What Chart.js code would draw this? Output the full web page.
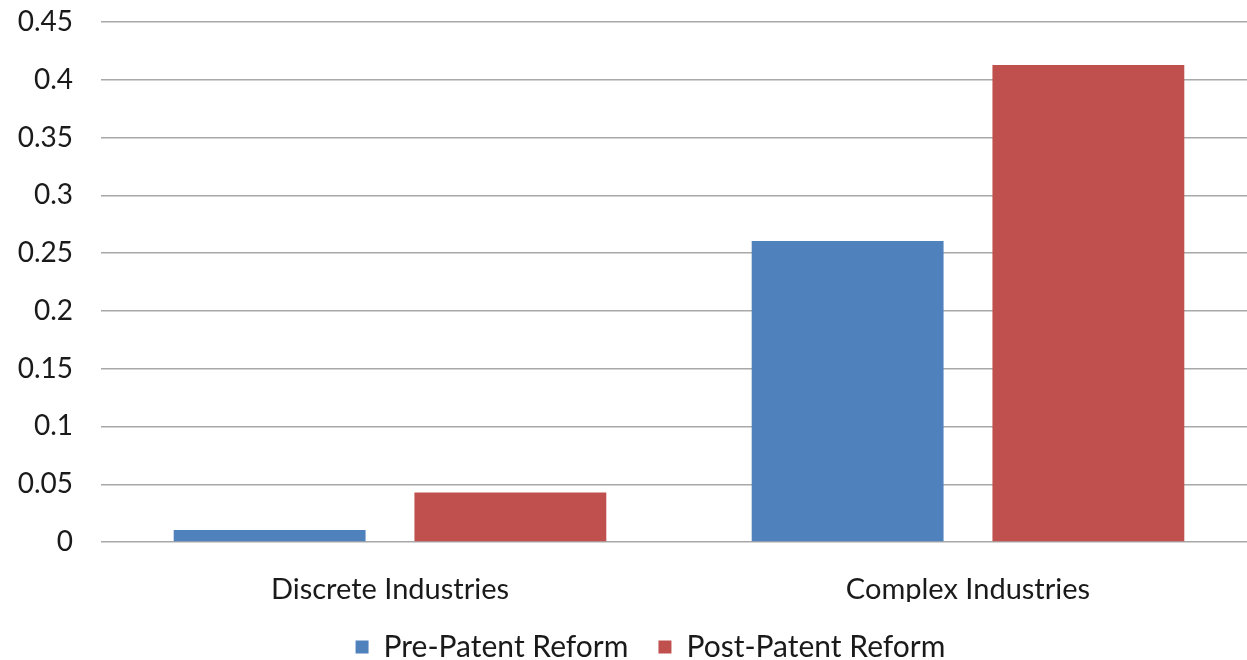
<!DOCTYPE html>
<html>
<head>
<meta charset="utf-8">
<title>Patent reform by industry type</title>
<script src="https://cdn.jsdelivr.net/npm/chart.js@4.4.1/dist/chart.umd.min.js"></script>
<style>
  html, body { margin: 0; padding: 0; background: #fff; overflow: hidden; }
  #wrap { width: 1300px; height: 660px; }
</style>
</head>
<body>
<div id="wrap"><canvas id="reformChart"></canvas></div>
<script>
// ── Data ───────────────────────────────────────────────
const CATEGORIES = ["Discrete Industries", "Complex Industries"];
const PRE_REFORM = [0.0104, 0.2604];
const POST_REFORM = [0.0428, 0.4127];
const SERIES_NAMES = ["Pre-Patent Reform", "Post-Patent Reform"];

const Y_MIN = 0;
const Y_MAX = 0.45;
const Y_STEP = 0.05;

const FONT = "Lato, 'Open Sans', sans-serif";
const TEXT_COLOR = "#1a1a1a";
const LEGEND_SHIFT = 22;

// nudge the legend a little to the right of the canvas centre
const legendShift = {
  id: "legendShift",
  afterLayout(chart) {
    if (!chart.legend) return;
    chart.legend.left += LEGEND_SHIFT;
    chart.legend.right += LEGEND_SHIFT;
  }
};

// ── Chart ──────────────────────────────────────────────
const ctx = document.getElementById("reformChart");

new Chart(ctx, {
  type: "bar",
  data: {
    labels: CATEGORIES,
    datasets: [
      { label: SERIES_NAMES[0], data: PRE_REFORM, backgroundColor: "#4f81bd", borderWidth: 0 },
      { label: SERIES_NAMES[1], data: POST_REFORM, backgroundColor: "#c0504d", borderWidth: 0 }
    ]
  },
  plugins: [legendShift],
  options: {
    responsive: true,
    maintainAspectRatio: false,
    animation: false,
    categoryPercentage: 0.833,
    barPercentage: 0.797,
    layout: { padding: { top: 22, right: 43, bottom: -12, left: 0 } },
    scales: {
      x: {
        grid: { display: false, drawTicks: false },
        border: { display: false },
        ticks: { color: TEXT_COLOR, font: { family: FONT, size: 29 }, padding: 30 },
        afterFit: scale => { scale.height = 60; }
      },
      y: {
        min: Y_MIN,
        max: Y_MAX,
        grid: { color: "#a8a8a8", lineWidth: 1.4, drawTicks: false },
        border: { display: false },
        ticks: {
          stepSize: Y_STEP,
          color: TEXT_COLOR,
          font: { family: FONT, size: 28 },
          padding: 28,
          callback: v => +v.toFixed(2)
        },
        afterFit: scale => {
          scale.width = 101;
          scale.paddingTop = 0;
          scale.paddingBottom = 0;
        }
      }
    },
    plugins: {
      legend: {
        position: "bottom",
        labels: {
          color: TEXT_COLOR,
          font: { family: FONT, size: 30 },
          boxWidth: 13,
          boxHeight: 13,
          padding: 30
        }
      },
      tooltip: { enabled: false }
    }
  }
});
</script>
</body>
</html>
